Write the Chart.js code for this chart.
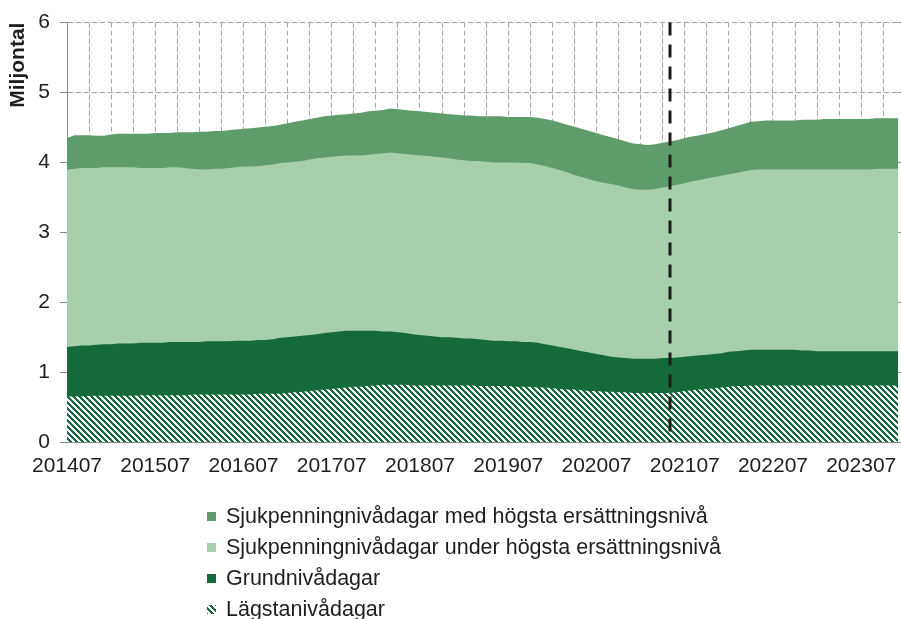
<!DOCTYPE html>
<html>
<head>
<meta charset="utf-8">
<script src="https://cdn.jsdelivr.net/npm/chart.js@4.4.0/dist/chart.umd.min.js"></script>
<style>
html, body { margin: 0; padding: 0; background: #fff; }
#wrap { width: 901px; height: 619px; }
</style>
</head>
<body>
<div id="wrap"><canvas id="areaChart" width="901" height="619"></canvas></div>
<script>
// month categories 201407 .. 202312
var months = [];
for (var yr = 2014; yr <= 2023; yr++) {
  for (var mo = 1; mo <= 12; mo++) {
    if (yr === 2014 && mo < 7) continue;
    months.push(String(yr) + (mo < 10 ? "0" + mo : mo));
  }
}

// miljontal dagar per månad
var lagsta = [
  0.65,0.65,0.65,0.66,0.66,0.66,0.66,0.66,0.66,0.66,0.67,0.67,
  0.67,0.67,0.67,0.67,0.67,0.68,0.68,0.68,0.68,0.68,0.68,0.68,
  0.68,0.68,0.69,0.69,0.69,0.69,0.70,0.71,0.72,0.73,0.74,0.75,
  0.76,0.77,0.78,0.79,0.79,0.80,0.81,0.82,0.82,0.82,0.82,0.81,
  0.81,0.81,0.81,0.81,0.81,0.81,0.81,0.81,0.80,0.80,0.80,0.80,
  0.80,0.79,0.79,0.79,0.78,0.78,0.77,0.76,0.75,0.75,0.74,0.73,
  0.73,0.72,0.72,0.71,0.71,0.70,0.70,0.70,0.70,0.70,0.70,0.71,
  0.73,0.74,0.75,0.76,0.77,0.78,0.79,0.80,0.80,0.81,0.81,0.81,
  0.81,0.81,0.81,0.81,0.81,0.81,0.81,0.81,0.81,0.81,0.81,0.81,
  0.81,0.81,0.81,0.81,0.81,0.81
];
var grund = [
  0.71,0.72,0.73,0.72,0.73,0.74,0.74,0.75,0.75,0.75,0.75,0.75,
  0.75,0.75,0.76,0.76,0.76,0.75,0.75,0.76,0.76,0.76,0.76,0.77,
  0.77,0.77,0.77,0.77,0.78,0.80,0.80,0.80,0.80,0.80,0.80,0.81,
  0.81,0.81,0.81,0.80,0.80,0.79,0.78,0.76,0.76,0.75,0.74,0.73,
  0.72,0.71,0.70,0.69,0.69,0.68,0.67,0.67,0.67,0.66,0.65,0.65,
  0.64,0.65,0.64,0.64,0.64,0.62,0.61,0.60,0.59,0.57,0.56,0.55,
  0.53,0.52,0.50,0.50,0.49,0.49,0.49,0.49,0.49,0.50,0.50,0.50,
  0.49,0.49,0.49,0.49,0.49,0.49,0.50,0.50,0.51,0.51,0.51,0.51,
  0.51,0.51,0.51,0.51,0.50,0.50,0.49,0.49,0.49,0.49,0.49,0.49,
  0.49,0.49,0.49,0.49,0.49,0.49
];
var underHogsta = [
  2.54,2.54,2.54,2.54,2.53,2.53,2.53,2.52,2.52,2.52,2.50,2.50,
  2.50,2.50,2.50,2.50,2.49,2.48,2.47,2.46,2.47,2.47,2.48,2.48,
  2.49,2.49,2.49,2.50,2.50,2.50,2.50,2.50,2.50,2.51,2.52,2.51,
  2.51,2.51,2.51,2.51,2.51,2.52,2.53,2.55,2.56,2.56,2.56,2.57,
  2.57,2.57,2.57,2.57,2.56,2.55,2.55,2.54,2.55,2.55,2.55,2.55,
  2.56,2.56,2.56,2.56,2.55,2.55,2.54,2.53,2.52,2.50,2.49,2.48,
  2.47,2.47,2.47,2.46,2.44,2.43,2.42,2.42,2.43,2.44,2.46,2.47,
  2.48,2.50,2.51,2.52,2.53,2.54,2.54,2.55,2.56,2.57,2.58,2.58,
  2.58,2.58,2.58,2.58,2.59,2.59,2.60,2.60,2.60,2.60,2.60,2.60,
  2.60,2.60,2.61,2.61,2.61,2.61
];
var medHogsta = [
  0.45,0.48,0.47,0.47,0.46,0.45,0.47,0.48,0.48,0.48,0.49,0.49,
  0.50,0.50,0.49,0.50,0.51,0.52,0.54,0.54,0.54,0.54,0.54,0.54,
  0.54,0.55,0.55,0.55,0.55,0.55,0.56,0.57,0.58,0.58,0.58,0.59,
  0.59,0.59,0.59,0.60,0.61,0.62,0.62,0.62,0.63,0.63,0.63,0.63,
  0.63,0.63,0.63,0.63,0.63,0.64,0.64,0.65,0.64,0.65,0.66,0.66,
  0.65,0.65,0.66,0.66,0.67,0.67,0.68,0.68,0.68,0.69,0.69,0.69,
  0.69,0.68,0.67,0.66,0.66,0.65,0.65,0.64,0.64,0.64,0.64,0.64,
  0.65,0.64,0.64,0.64,0.64,0.65,0.66,0.67,0.68,0.69,0.69,0.70,
  0.70,0.70,0.70,0.70,0.71,0.71,0.71,0.72,0.72,0.72,0.72,0.72,
  0.72,0.72,0.72,0.72,0.72,0.72
];
var forecastStart = "202105";

var darkGreen = "#146a3b";
var lightGreen = "#a6cfab";
var midGreen = "#5f9c6b";
var gridGrey = "#a3a3a3";
var axisGrey = "#8a8a8a";
var textCol = "#1e1e1e";

Chart.defaults.font.family = "'Liberation Sans', Arial, sans-serif";
Chart.defaults.color = textCol;

var canvas = document.getElementById("areaChart");
var ctx = canvas.getContext("2d");

// diagonal hatch for Lägstanivådagar
function makeHatch() {
  var c = document.createElement("canvas");
  c.width = 6; c.height = 6;
  var g = c.getContext("2d");
  g.fillStyle = "#fff";
  g.fillRect(0, 0, 6, 6);
  g.fillStyle = darkGreen;
  for (var y = 0; y < 6; y++) {
    for (var x = 0; x < 6; x++) {
      if ((((x - y) % 6) + 6) % 6 < 3) g.fillRect(x, y, 1, 1);
    }
  }
  return ctx.createPattern(c, "repeat");
}
var hatch = makeHatch();

var forecastLine = {
  id: "forecastLine",
  afterDatasetsDraw: function (chart) {
    var xs = chart.scales.x, a = chart.chartArea, c = chart.ctx;
    var px = Math.round(xs.getPixelForValue(months.indexOf(forecastStart)));
    c.save();
    c.strokeStyle = "#1c1c1c";
    c.lineWidth = 3;
    c.setLineDash([13, 9]);
    c.beginPath();
    c.moveTo(px, a.top);
    c.lineTo(px, a.bottom);
    c.stroke();
    c.restore();
  }
};

var listLegend = {
  id: "listLegend",
  afterDraw: function (chart) {
    var c = chart.ctx;
    var ds = chart.data.datasets.slice().reverse();
    var rows = [516, 547, 578, 609];
    c.save();
    c.font = "21.5px 'Liberation Sans', Arial, sans-serif";
    c.textBaseline = "middle";
    c.textAlign = "left";
    ds.forEach(function (d, i) {
      c.fillStyle = d.backgroundColor;
      c.fillRect(207, rows[i] - 4, 9, 9);
      c.fillStyle = textCol;
      c.fillText(d.label, 226, rows[i] + 1);
    });
    c.restore();
  }
};

var myAreaChart = new Chart(ctx, {
  type: "line",
  data: {
    labels: months,
    datasets: [
      { label: "Lägstanivådagar", data: lagsta, backgroundColor: hatch, fill: "origin" },
      { label: "Grundnivådagar", data: grund, backgroundColor: darkGreen, fill: "origin" },
      { label: "Sjukpenningnivådagar under högsta ersättningsnivå", data: underHogsta, backgroundColor: lightGreen, fill: "origin" },
      { label: "Sjukpenningnivådagar med högsta ersättningsnivå", data: medHogsta, backgroundColor: midGreen, fill: "origin" }
    ]
  },
  options: {
    responsive: false,
    animation: false,
    devicePixelRatio: 1,
    elements: {
      point: { radius: 0 },
      line: { borderWidth: 0, tension: 0 }
    },
    layout: { padding: { top: 20, right: 0, bottom: 137, left: 0 } },
    plugins: {
      legend: { display: false },
      tooltip: { enabled: false }
    },
    scales: {
      x: {
        type: "category",
        offset: false,
        grid: {
          color: function (c) { return c.index % 3 === 0 && c.index > 0 ? gridGrey : "rgba(0,0,0,0)"; },
          drawTicks: true,
          tickLength: 12,
          tickColor: "rgba(0,0,0,0)"
        },
        border: { color: axisGrey, dash: [5, 3] },
        ticks: {
          autoSkip: false,
          maxRotation: 0,
          padding: 0,
          font: { size: 21 },
          color: textCol,
          callback: function (v, i) { return i % 12 === 0 ? months[i] : ""; }
        },
        afterFit: function (s) { s.height = 40; }
      },
      y: {
        stacked: true,
        min: 0,
        max: 6,
        grid: { color: gridGrey, tickColor: axisGrey, tickLength: 7 },
        border: { color: axisGrey, dash: [5, 3] },
        ticks: { stepSize: 1, padding: 10, font: { size: 21 }, color: textCol },
        title: {
          display: true,
          text: "Miljontal",
          align: "end",
          font: { size: 21, weight: "bold" },
          color: textCol,
          padding: { top: 6, bottom: 0 }
        },
        afterFit: function (s) { s.width = 67; }
      },
      y2: {
        position: "right",
        min: 0,
        max: 6,
        grid: { drawOnChartArea: false, tickLength: 3, tickColor: axisGrey },
        border: { display: false },
        ticks: { display: false, stepSize: 1, padding: 0 },
        afterFit: function (s) { s.width = 3; }
      }
    }
  },
  plugins: [forecastLine, listLegend]
});
</script>
</body>
</html>
